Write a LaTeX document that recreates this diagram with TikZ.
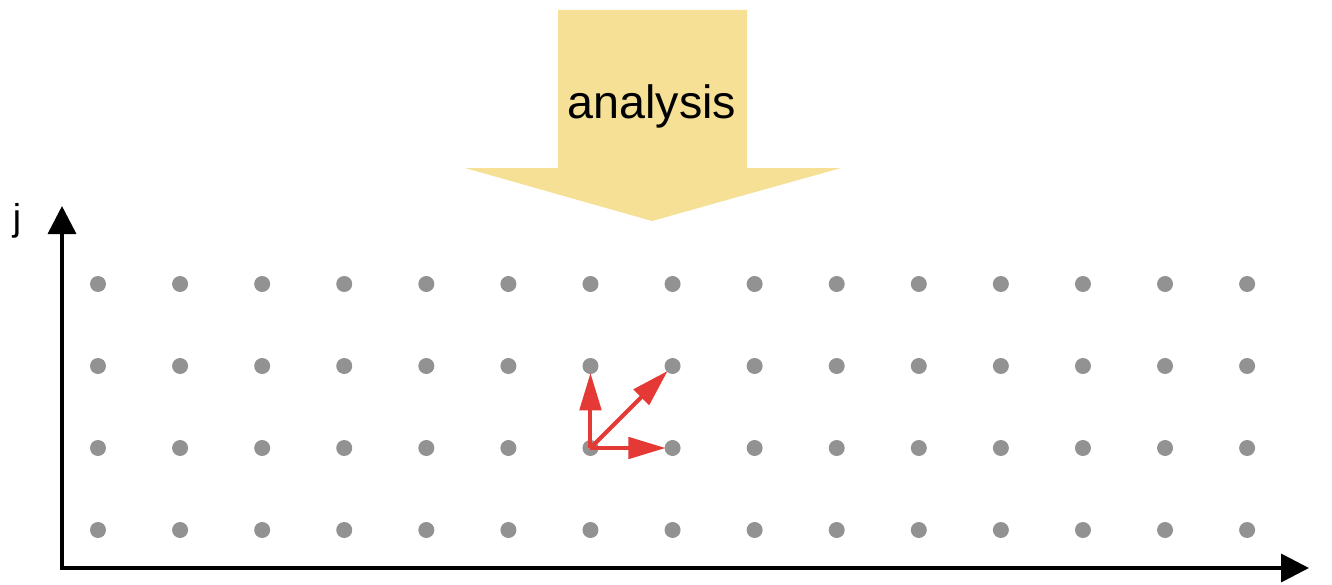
\documentclass[tikz,border=0pt]{standalone}
\usepackage{fontspec}
\setmainfont{Liberation Sans}
\usetikzlibrary{arrows.meta}
\definecolor{bigyellow}{RGB}{246,224,150}
\definecolor{dotgray}{RGB}{146,146,146}
\definecolor{vecred}{RGB}{229,57,53}
\tikzset{
  gridpt/.style={circle, fill=dotgray, draw=none, inner sep=0pt, minimum size=12pt},
  axisline/.style={line width=2.7pt, line join=miter, {Triangle[length=21pt,width=21pt]}-{Triangle[length=21pt,width=21pt]}},
  vecarrow/.style={draw=vecred, line width=3pt, -{Triangle[length=28pt,width=16pt]}, shorten >=-1pt},
}
\begin{document}
\begin{tikzpicture}[x=0.75pt,y=-0.75pt]
\useasboundingbox (0,0) rectangle (1332,585);
% big analysis arrow
\fill[bigyellow] (558,10) -- (747,10) -- (747,168) -- (841,168) -- (652,221) -- (465,168) -- (558,168) -- cycle;
\node[anchor=base, inner sep=0pt, font=\fontsize{35}{42}\selectfont] (analysis) at (652,118) {analysis};
% axes
\coordinate (ytip) at (62,206);
\coordinate (origin) at (62,568);
\coordinate (xtip) at (1309,568);
\draw[axisline] (ytip) -- (origin) -- (xtip);
\node[anchor=base, inner sep=0pt, font=\fontsize{28}{34}\selectfont] (jlabel) at (17,230) {j};
% grid of points
\foreach \i in {1,...,15} {
  \foreach \j/\yy in {1/530,2/448,3/366,4/284} {
    \node[gridpt] (d-\i-\j) at ({98+82.08*(\i-1)},\yy) {};
  }
}
% red vectors
\draw[vecarrow] (d-7-2.center) -- (d-7-3);
\draw[vecarrow] (d-7-2.center) -- (d-8-3);
\draw[vecarrow] (d-7-2.center) -- (d-8-2);
\end{tikzpicture}
\end{document}
